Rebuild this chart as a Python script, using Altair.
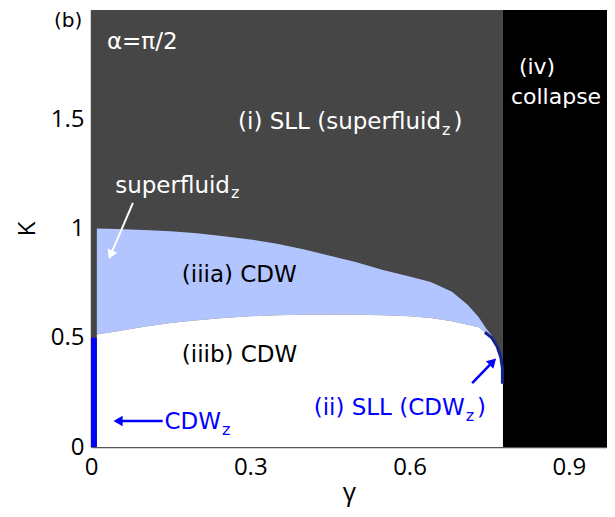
import altair as alt
import pandas as pd

FONT = "Open Sans"
AFONT = "DejaVu Sans"

# ---- data (gamma on x, K on y) ----
gamma_boundary = [0.011, 0.05, 0.1, 0.15, 0.2, 0.25, 0.3, 0.35, 0.4, 0.45, 0.5, 0.55,
                  0.6, 0.64, 0.68, 0.71, 0.73, 0.745, 0.755, 0.765, 0.772]
k_upper = [1.0, 0.998, 0.993, 0.987, 0.978, 0.965, 0.95, 0.93, 0.905, 0.875, 0.845, 0.81,
           0.78, 0.755, 0.71, 0.65, 0.595, 0.54, 0.51, 0.47, 0.42]
k_lower = [0.515, 0.53, 0.55, 0.567, 0.58, 0.59, 0.598, 0.603, 0.605, 0.606, 0.605, 0.603,
           0.598, 0.59, 0.576, 0.56, 0.548, 0.52, 0.5, 0.46, 0.42]
white_gamma = gamma_boundary + [0.776]
white_k = k_lower + [0.29]

gamma_collapse = 0.776
gamma_max = 0.972
k_max = 2.0

cdwz_gamma = [0.0, 0.011]
cdwz_k = [0.0, 0.5]

sliver_gamma = [0.742, 0.755, 0.765, 0.772, 0.775, 0.775]
sliver_k = [0.525, 0.5, 0.46, 0.41, 0.36, 0.29]

xs = alt.Scale(domain=[0, gamma_max], nice=False, zero=False)
ys = alt.Scale(domain=[0, k_max], nice=False, zero=False)
xaxis = alt.Axis(values=[0, 0.3, 0.6, 0.9], format="~g", labelFontSize=24, labelFont=FONT,
                 labelColor="black", ticks=False, domainColor="#555555", domainWidth=1.5,
                 grid=False, labelPadding=8, labelFlush=False, titleFontSize=26, titleFont=FONT,
                 titleFontWeight="normal", titleColor="black", titlePadding=0)
yaxis = alt.Axis(values=[0, 0.5, 1, 1.5], format="~g", labelFontSize=24, labelFont=FONT,
                 labelColor="black", ticks=False, domainColor="#555555", domainWidth=1.5,
                 grid=False, labelPadding=7, labelFlush=False, titleFontSize=24, titleFont=FONT,
                 titleFontWeight="normal", titleColor="black", titlePadding=11)


def X(f="g"):
    return alt.X(f"{f}:Q", scale=xs, axis=xaxis, title="γ")


def Y(f="k"):
    return alt.Y(f"{f}:Q", scale=ys, axis=yaxis, title="K", stack=None)


bg = alt.Chart(pd.DataFrame({"g": [0.0], "g2": [gamma_collapse], "k": [0.0], "k2": [k_max]})) \
    .mark_rect(color="#464646").encode(x=X(), x2="g2", y=Y(), y2="k2")
coll = alt.Chart(pd.DataFrame({"g": [gamma_collapse], "g2": [gamma_max], "k": [0.0], "k2": [k_max]})) \
    .mark_rect(color="#000000").encode(x=X(), x2="g2", y=Y(), y2="k2")

band = alt.Chart(pd.DataFrame({"g": gamma_boundary, "ku": k_upper, "kl": k_lower})) \
    .mark_area(color="#b2c5fe", opacity=1).encode(x=X(), y=Y("ku"), y2="kl")
white = alt.Chart(pd.DataFrame({"g": white_gamma, "k": white_k})) \
    .mark_area(color="#ffffff", opacity=1).encode(x=X(), y=Y())
sliver = alt.Chart(pd.DataFrame({"g": sliver_gamma, "k": sliver_k, "o": list(range(len(sliver_k)))})) \
    .mark_line(color="#14238f", strokeWidth=3).encode(x=X(), y=Y(), order="o:Q")
cdwz = alt.Chart(pd.DataFrame({"g": [cdwz_gamma[0]], "g2": [cdwz_gamma[1]], "k": [cdwz_k[0]], "k2": [cdwz_k[1]]})) \
    .mark_rect(color="#0000ff").encode(x=X(), x2="g2", y=Y(), y2="k2")


def label(texts, gs, ks, color, size, align="left", font=AFONT):
    df = pd.DataFrame({"g": gs, "k": ks, "t": texts})
    return alt.Chart(df).mark_text(color=color, fontSize=size, font=font, align=align,
                                   baseline="middle").encode(x=X(), y=Y(), text="t:N")


BLUE = "#0000ff"
texts = [
    label(["(b)"], [-0.043], [1.95], "black", 20, "center"),
    label(["α=π/2"], [0.03], [1.853], "white", 23),
    label(["(iv)", "collapse"], [0.806, 0.791], [1.739, 1.602], "white", 22),
    label(["(i) SLL (superfluid"], [0.277], [1.487], "white", 23),
    label(["z"], [0.661], [1.451], "white", 16),
    label([")"], [0.683], [1.487], "white", 23),
    label(["superfluid"], [0.2618], [1.194], "white", 23, "right"),
    label(["z"], [0.2636], [1.162], "white", 16),
    label(["(iiia) CDW", "(iiib) CDW"], [0.171, 0.171], [0.788, 0.42], "black", 23),
    label(["(ii) SLL (CDW", "CDW"], [0.704, 0.245], [0.178, 0.114], BLUE, 23, "right"),
    label(["z", "z"], [0.706, 0.247], [0.143, 0.078], BLUE, 16),
    label([")"], [0.727], [0.178], BLUE, 23),
]

# arrows
arrow_id = ["w", "w", "b1", "b1", "b2", "b2"]
arrow_g = [0.079, 0.035, 0.718, 0.759, 0.135, 0.047]
arrow_k = [1.117, 0.868, 0.292, 0.395, 0.119, 0.119]
head_g = [0.037, 0.757, 0.051]
head_k = [0.88, 0.39, 0.119]
head_angle = [204, 45, 270]

adf = pd.DataFrame({"g": arrow_g, "k": arrow_k, "id": arrow_id})
shaft_w = alt.Chart(adf[adf.id == "w"]).mark_line(color="white", strokeWidth=2).encode(x=X(), y=Y())
shaft_b = alt.Chart(adf[adf.id != "w"]).mark_line(color=BLUE, strokeWidth=2.5).encode(
    x=X(), y=Y(), detail="id:N")
hdf = pd.DataFrame({"g": head_g, "k": head_k, "a": head_angle, "c": ["white", BLUE, BLUE]})
heads = alt.Chart(hdf).mark_point(shape="triangle-up", filled=True, size=110, opacity=1).encode(
    x=X(), y=Y(), angle=alt.Angle("a:Q", scale=None), color=alt.Color("c:N", scale=None))

chart = alt.layer(bg, coll, band, white, sliver, cdwz, *texts, shaft_w, shaft_b, heads).properties(
    width=516, height=437,
    autosize=alt.AutoSizeParams(type="none"),
    padding={"left": 83, "top": 2, "right": 0, "bottom": 62},
).configure_view(stroke=None)

chart.save("out.html", embed_options={"renderer": "svg", "actions": False})
